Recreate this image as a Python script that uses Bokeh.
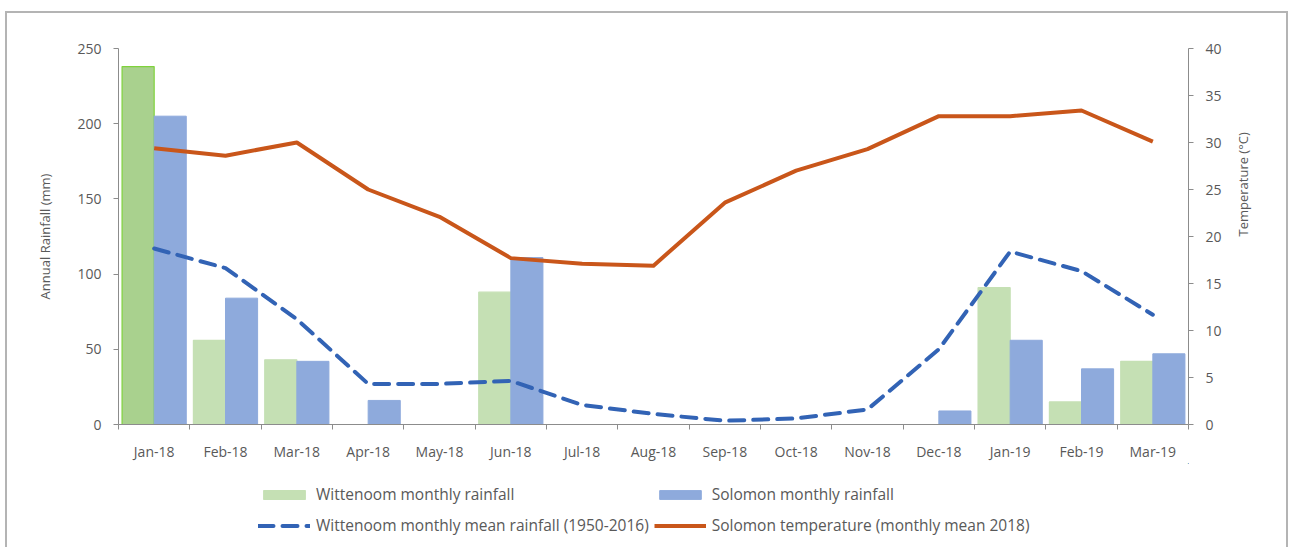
import math
from bokeh.plotting import figure
from bokeh.layouts import column
from bokeh.models import (Range1d, LinearAxis, FixedTicker, Legend, LegendItem,
                          ColumnDataSource)
from bokeh.embed import file_html
from bokeh.resources import INLINE

# ---------------- data ----------------
months = ["Jan-18", "Feb-18", "Mar-18", "Apr-18", "May-18", "Jun-18", "Jul-18",
          "Aug-18", "Sep-18", "Oct-18", "Nov-18", "Dec-18", "Jan-19", "Feb-19", "Mar-19"]
wittenoom_rain = [238, 56, 43, 0, 0, 88, 0, 0, 0, 0, 0, 0, 91, 15, 42]
solomon_rain = [205, 84, 42, 16, 0, 111, 0, 0, 0, 0, 0, 9, 56, 37, 47]
wittenoom_mean = [117, 104, 70, 27, 27, 29, 13, 7, 2.5, 4, 10, 50, 115, 102, 73]
solomon_temp = [29.4, 28.6, 30.0, 25.0, 22.1, 17.7, 17.1, 16.9, 23.6, 27.0, 29.3, 32.8, 32.8, 33.4, 30.1]
rain_ticks = [0, 50, 100, 150, 200, 250]
temp_ticks = [0, 5, 10, 15, 20, 25, 30, 35, 40]
labels = ["Wittenoom monthly rainfall", "Solomon monthly rainfall",
          "Wittenoom monthly mean rainfall (1950-2016)", "Solomon temperature (monthly mean 2018)"]

# ---------------- styles ----------------
FONT = "Open Sans"
TXT = "#595959"
AX = "#8c8c8c"
GREEN = "#c5e0b4"
GREEN_HI = "#a9d18e"
GREEN_EDGE = "#7fd23c"
BLUE = "#8eaadc"
DASH_BLUE = "#3263b5"
ORANGE = "#c9561a"
DASH = "15 9"

n = len(months)
centers = [i + 0.5 for i in range(n)]
bw = 0.45

src = ColumnDataSource(dict(
    gx=[c - bw / 2 for c in centers],
    bx=[c + bw / 2 for c in centers],
    cx=centers,
    witt=wittenoom_rain,
    sol=solomon_rain,
    mean=wittenoom_mean,
    temp=solomon_temp,
    gfill=[GREEN_HI if i == 0 else GREEN for i in range(n)],
    gline=[GREEN_EDGE if i == 0 else GREEN for i in range(n)],
))


def draw_series(fig, y_name):
    g = fig.vbar(x="gx", top="witt", width=bw, source=src, fill_color="gfill", line_color="gline",
                 line_width=1.2)
    b = fig.vbar(x="bx", top="sol", width=bw, source=src, fill_color=BLUE, line_color=BLUE)
    m = fig.line(x="cx", y="mean", source=src, line_color=DASH_BLUE, line_width=4, line_dash=DASH,
                 line_cap="round")
    t = fig.line(x="cx", y="temp", source=src, line_color=ORANGE, line_width=4, y_range_name=y_name,
                 line_join="round")
    return g, b, m, t


W = 1279
p = figure(width=W, height=450, x_range=Range1d(0, n), y_range=Range1d(rain_ticks[0], rain_ticks[-1]),
           output_backend="svg", toolbar_location=None,
           min_border_left=111, min_border_right=98, min_border_top=35, min_border_bottom=35)
p.extra_y_ranges = {"temp": Range1d(temp_ticks[0], temp_ticks[-1])}
p.xgrid.visible = False
p.ygrid.visible = False
p.outline_line_color = None
p.background_fill_color = "white"
p.border_fill_color = "white"
draw_series(p, "temp")

# x axis
xa = p.xaxis[0]
xa.ticker = FixedTicker(ticks=centers, minor_ticks=list(range(n + 1)))
xa.major_label_overrides = {c: m for c, m in zip(centers, months)}
xa.major_tick_line_color = None
xa.major_tick_out = 0
xa.major_tick_in = 0
xa.minor_tick_out = 5
xa.minor_tick_in = 0
xa.minor_tick_line_color = AX
xa.axis_line_color = AX
xa.major_label_standoff = 12
xa.major_label_text_font = FONT
xa.major_label_text_font_size = "14px"
xa.major_label_text_color = TXT

# left axis
ya = p.yaxis[0]
ya.ticker = FixedTicker(ticks=rain_ticks)
ya.axis_label = "Annual Rainfall (mm)"
ya.minor_tick_line_color = None
ya.major_tick_out = 5
ya.major_tick_in = 0
ya.major_tick_line_color = AX
ya.axis_line_color = AX
ya.major_label_standoff = 12
ya.major_label_text_font = FONT
ya.major_label_text_font_size = "14px"
ya.major_label_text_color = TXT
ya.axis_label_text_font = FONT
ya.axis_label_text_font_size = "13px"
ya.axis_label_text_font_style = "normal"
ya.axis_label_text_color = TXT
ya.axis_label_standoff = 20

# right axis
ra = LinearAxis(y_range_name="temp", ticker=FixedTicker(ticks=temp_ticks), axis_label="Temperature (°C)")
ra.minor_tick_line_color = None
ra.major_tick_out = 5
ra.major_tick_in = 0
ra.major_tick_line_color = AX
ra.axis_line_color = AX
ra.major_label_standoff = 12
ra.major_label_text_font = FONT
ra.major_label_text_font_size = "14px"
ra.major_label_text_color = TXT
ra.axis_label_text_font = FONT
ra.axis_label_text_font_size = "13px"
ra.axis_label_text_font_style = "normal"
ra.axis_label_text_color = TXT
ra.axis_label_standoff = 18
ra.axis_label_orientation = math.pi / 2
p.add_layout(ra, "right")

# ---------------- legend strip (below the chart) ----------------
# same series drawn into a strip whose ranges keep them out of view; only the legend shows
lf = figure(width=W, height=84, x_range=Range1d(-1000, -999), y_range=Range1d(-1000, -999),
            output_backend="svg", toolbar_location=None,
            x_axis_location=None, y_axis_location=None,
            min_border_left=111, min_border_right=98, min_border_top=0, min_border_bottom=0)
lf.extra_y_ranges = {"temp": Range1d(-1000, -999)}
lf.xgrid.visible = False
lf.ygrid.visible = False
lf.outline_line_color = None
lf.background_fill_color = "white"
lf.border_fill_color = "white"
lrs = draw_series(lf, "temp")

legend = Legend(items=[
    LegendItem(label=labels[0], renderers=[lrs[0]], index=1),
    LegendItem(label=labels[1], renderers=[lrs[1]], index=1),
    LegendItem(label=labels[2], renderers=[lrs[2]]),
    LegendItem(label=labels[3], renderers=[lrs[3]]),
], orientation="horizontal", ncols=2, location=(140, 9))
legend.padding = 0
legend.margin = 0
legend.spacing = 5
legend.glyph_width = 52
legend.glyph_height = 11
legend.label_height = 26
legend.label_standoff = 6
legend.label_text_font = FONT
legend.label_text_font_size = "15.5px"
legend.label_text_color = TXT
legend.border_line_color = None
legend.background_fill_alpha = 0
lf.add_layout(legend, "center")

page = column(p, lf, spacing=0)
page.styles = {"margin-left": "5px", "margin-top": "11px", "border": "2px solid #b4b4b4",
               "border-bottom": "none"}

open("out.html", "w").write(file_html(page, INLINE))
